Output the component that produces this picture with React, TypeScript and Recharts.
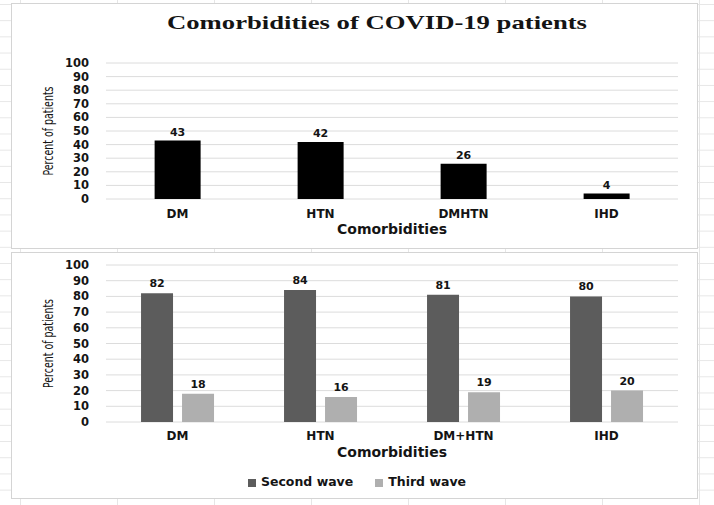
import { BarChart, Bar, XAxis, YAxis, CartesianGrid, LabelList, Label, Legend } from 'recharts';

const topCategories = ['DM', 'HTN', 'DMHTN', 'IHD'];
const topPercent = [43, 42, 26, 4];

const bottomCategories = ['DM', 'HTN', 'DM+HTN', 'IHD'];
const secondWave = [82, 84, 81, 80];
const thirdWave = [18, 16, 19, 20];

const percentTicks = [0, 10, 20, 30, 40, 50, 60, 70, 80, 90, 100];

const topData = topCategories.map((name, i) => ({ name, percent: topPercent[i] }));
const bottomData = bottomCategories.map((name, i) => ({ name, second: secondWave[i], third: thirdWave[i] }));

const ink = '#141414';
const gridColor = '#dcdcdc';
const boldFont = 'DejaVu Sans, Verdana, sans-serif';
const tickStyle = { fill: ink, fontSize: 11.5, fontWeight: 700, fontFamily: boldFont };
const catStyle = { fill: ink, fontSize: 12, fontWeight: 700, fontFamily: boldFont };
const valueStyle = { fill: ink, fontSize: 11, fontWeight: 700, fontFamily: boldFont };

// rotated y title, squeezed to the length seen in the picture
const YTitle = (props: any) => {
  const { viewBox } = props;
  const cx = viewBox.x + 18;
  const cy = viewBox.y + viewBox.height / 2;
  return (
    <text
      x={cx}
      y={cy}
      transform={`rotate(-90 ${cx} ${cy})`}
      textAnchor="middle"
      dominantBaseline="central"
      fontSize={14.5}
      fontFamily="'Liberation Sans Narrow', 'DejaVu Sans Condensed', sans-serif"
      fill={ink}
      textLength={89}
      lengthAdjust="spacingAndGlyphs"
    >
      Percent of patients
    </text>
  );
};

const panel = (top: number, height: number) => ({
  position: 'absolute' as const,
  left: 11,
  top,
  width: 687,
  height,
  border: '1px solid #d4d4d4',
  background: '#fff',
  boxSizing: 'border-box' as const,
});

export default function App() {
  return (
    <div
      style={{
        position: 'absolute',
        left: 0,
        top: 0,
        width: 714,
        height: 505,
        overflow: 'hidden',
        backgroundColor: '#fff',
        backgroundImage:
          'linear-gradient(to right, #e6e6e6 1px, transparent 1px), linear-gradient(to bottom, #e6e6e6 1px, transparent 1px)',
        backgroundSize: '97px 100%, 100% 16.2px',
        backgroundPosition: '20px 0, 0 4px',
      }}
    >
      <div style={panel(3, 246)} />
      <div style={panel(252, 247)} />

      <svg width={714} height={40} style={{ position: 'absolute', left: 0, top: 0 }}>
        <text
          x={377}
          y={29}
          textAnchor="middle"
          fontFamily="'Liberation Serif', 'Times New Roman', serif"
          fontWeight={700}
          fontSize={19.5}
          fill={ink}
          textLength={420}
          lengthAdjust="spacingAndGlyphs"
        >
          Comorbidities of COVID-19 patients
        </text>
      </svg>

      <div style={{ position: 'absolute', left: 0, top: 0 }}>
        <BarChart
          width={714}
          height={250}
          data={topData}
          margin={{ top: 63, right: 36, bottom: 13, left: 30 }}
          barCategoryGap="34%"
        >
          <CartesianGrid vertical={false} stroke={gridColor} />
          <XAxis
            dataKey="name"
            height={38}
            axisLine={false}
            tickLine={false}
            tickSize={0}
            tickMargin={10}
            tick={catStyle}
            interval={0}
          >
            <Label
              value="Comorbidities"
              position="insideBottom"
              offset={3}
              style={{ fill: ink, fontSize: 14, fontWeight: 700, fontFamily: boldFont }}
            />
          </XAxis>
          <YAxis
            width={76}
            domain={[0, 100]}
            ticks={percentTicks}
            axisLine={false}
            tickLine={false}
            tickSize={0}
            tickMargin={17}
            tick={tickStyle}
            interval={0}
          >
            <Label content={YTitle} />
          </YAxis>
          <Bar dataKey="percent" fill="#000" isAnimationActive={false}>
            <LabelList dataKey="percent" position="top" offset={5} style={valueStyle} />
          </Bar>
        </BarChart>
      </div>

      <div style={{ position: 'absolute', left: 0, top: 250 }}>
        <BarChart
          width={714}
          height={255}
          data={bottomData}
          margin={{ top: 15, right: 36, bottom: 43, left: 30 }}
          barCategoryGap="24.5%"
          barGap={9}
        >
          <CartesianGrid vertical={false} stroke={gridColor} />
          <XAxis
            dataKey="name"
            height={40}
            axisLine={false}
            tickLine={false}
            tickSize={0}
            tickMargin={9}
            tick={catStyle}
            interval={0}
          >
            <Label
              value="Comorbidities"
              position="insideBottom"
              offset={5}
              style={{ fill: ink, fontSize: 14, fontWeight: 700, fontFamily: boldFont }}
            />
          </XAxis>
          <YAxis
            width={76}
            domain={[0, 100]}
            ticks={percentTicks}
            axisLine={false}
            tickLine={false}
            tickSize={0}
            tickMargin={17}
            tick={tickStyle}
            interval={0}
          >
            <Label content={YTitle} />
          </YAxis>
          <Legend
            layout="horizontal"
            verticalAlign="middle"
            align="center"
            iconType="square"
            iconSize={8}
            wrapperStyle={{ top: 224, left: 11, width: 714, fontFamily: boldFont, fontSize: 12.5, fontWeight: 700 }}
            formatter={(value: string) => (
              <span style={{ color: ink, marginRight: 12, paddingLeft: 1 }}>{value}</span>
            )}
          />
          <Bar dataKey="second" name="Second wave" fill="#5c5c5c" isAnimationActive={false}>
            <LabelList dataKey="second" position="top" offset={6} style={valueStyle} />
          </Bar>
          <Bar dataKey="third" name="Third wave" fill="#afafaf" isAnimationActive={false}>
            <LabelList dataKey="third" position="top" offset={6} style={valueStyle} />
          </Bar>
        </BarChart>
      </div>
    </div>
  );
}
